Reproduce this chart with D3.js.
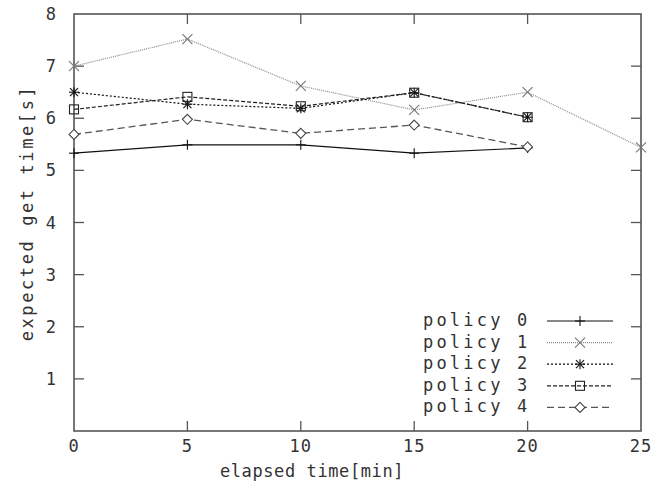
<!DOCTYPE html>
<html><head><meta charset="utf-8">
<script src="https://cdn.jsdelivr.net/npm/d3@7"></script>
<style>
html,body{margin:0;padding:0;background:#fff;}
text{font-family:"DejaVu Sans Mono","Liberation Mono",monospace;fill:#333;}
</style></head>
<body><svg id="c" width="663" height="499"></svg>
<script>
const xTicks = [0, 5, 10, 15, 20, 25];
const yTicks = [1, 2, 3, 4, 5, 6, 7, 8];
const xShort = [0, 5, 10, 15, 20];
const xLong = [0, 5, 10, 15, 20, 25];
const policy0 = [5.33, 5.49, 5.49, 5.33, 5.43];
const policy1 = [7.00, 7.52, 6.62, 6.16, 6.50, 5.44];
const policy2 = [6.50, 6.27, 6.19, 6.49, 6.02];
const policy3 = [6.17, 6.41, 6.23, 6.49, 6.02];
const policy4 = [5.69, 5.98, 5.71, 5.87, 5.45];
const seriesNames = ["policy 0", "policy 1", "policy 2", "policy 3", "policy 4"];

const svg = d3.select("#c");
const L = 74, R = 641, T = 14, B = 431;
const x = d3.scaleLinear().domain([0, 25]).range([L, R]);
const y = d3.scaleLinear().domain([0, 8]).range([B, T]);

const styles = [
  {stroke:"#111", dash:null, width:1.2, marker:"plus", mcol:"#111"},
  {stroke:"#8a8a8a", dash:"1,1", width:1.2, marker:"cross", mcol:"#777"},
  {stroke:"#111", dash:"2,2", width:1.2, marker:"star", mcol:"#111"},
  {stroke:"#222", dash:"4,2", width:1.2, marker:"square", mcol:"#222"},
  {stroke:"#555", dash:"7,4", width:1.3, marker:"diamond", mcol:"#444"}
];
const series = [
  {xs:xShort, ys:policy0}, {xs:xLong, ys:policy1}, {xs:xShort, ys:policy2},
  {xs:xShort, ys:policy3}, {xs:xShort, ys:policy4}
];

const tk = 10, axCol = "#555";
const g = svg.append("g");
xTicks.forEach(v => {
  if (v === 0 || v === 25) return;
  g.append("line").attr("x1", x(v)).attr("x2", x(v)).attr("y1", B).attr("y2", B - tk).attr("stroke", axCol).attr("stroke-width", 1.3);
  g.append("line").attr("x1", x(v)).attr("x2", x(v)).attr("y1", T).attr("y2", T + tk).attr("stroke", axCol).attr("stroke-width", 1.3);
});
yTicks.forEach(v => {
  if (v === 8) return;
  g.append("line").attr("x1", L).attr("x2", L + tk).attr("y1", y(v)).attr("y2", y(v)).attr("stroke", axCol).attr("stroke-width", 1.3);
  g.append("line").attr("x1", R).attr("x2", R - tk).attr("y1", y(v)).attr("y2", y(v)).attr("stroke", axCol).attr("stroke-width", 1.3);
});
g.append("rect").attr("x", L).attr("y", T).attr("width", R - L).attr("height", B - T)
  .attr("fill", "none").attr("stroke", axCol).attr("stroke-width", 1.6);

xTicks.forEach(v => {
  svg.append("text").attr("x", x(v)).attr("y", 452).attr("text-anchor", "middle")
    .attr("font-size", 17).style("letter-spacing", "1px").text(v);
});
yTicks.forEach(v => {
  svg.append("text").attr("x", 56).attr("y", y(v) + 6).attr("text-anchor", "end")
    .attr("font-size", 17).text(v);
});
svg.append("text").attr("x", 312).attr("y", 477).attr("text-anchor", "middle")
  .attr("font-size", 17).style("letter-spacing", "0.6px").text("elapsed time[min]");
svg.append("text").attr("transform", "translate(33,213) rotate(-90)").attr("text-anchor", "middle")
  .attr("font-size", 17).style("letter-spacing", "2.6px").text("expected get time[s]");

function drawMarker(sel, type, cx, cy, col) {
  const s = 5;
  const a = {stroke: col, "stroke-width": 1.1, fill: "none"};
  const ln = (x1, y1, x2, y2) => { const l = sel.append("line").attr("x1", x1).attr("y1", y1).attr("x2", x2).attr("y2", y2); Object.entries(a).forEach(([k, v]) => l.attr(k, v)); };
  if (type === "plus") { ln(cx - s, cy, cx + s, cy); ln(cx, cy - s, cx, cy + s); }
  else if (type === "cross") { ln(cx - s, cy - s, cx + s, cy + s); ln(cx - s, cy + s, cx + s, cy - s); }
  else if (type === "star") { ln(cx - s, cy, cx + s, cy); ln(cx, cy - s, cx, cy + s); ln(cx - 4, cy - 4, cx + 4, cy + 4); ln(cx - 4, cy + 4, cx + 4, cy - 4); }
  else if (type === "square") { const r = sel.append("rect").attr("x", cx - 4.5).attr("y", cy - 4.5).attr("width", 9).attr("height", 9); Object.entries(a).forEach(([k, v]) => r.attr(k, v)); }
  else if (type === "diamond") { const p = sel.append("path").attr("d", `M${cx},${cy - 5}L${cx + 5},${cy}L${cx},${cy + 5}L${cx - 5},${cy}Z`); Object.entries(a).forEach(([k, v]) => p.attr(k, v)); p.attr("fill", "#fff"); }
}

const line = d3.line().x(d => x(d[0])).y(d => y(d[1]));
series.forEach((s, i) => {
  const st = styles[i];
  const pts = s.xs.map((xv, j) => [xv, s.ys[j]]);
  svg.append("path").attr("d", line(pts)).attr("fill", "none").attr("stroke", st.stroke)
    .attr("stroke-width", st.width).attr("stroke-dasharray", st.dash);
});
series.forEach((s, i) => {
  const st = styles[i];
  const mg = svg.append("g");
  s.xs.forEach((xv, j) => drawMarker(mg, st.marker, x(xv), y(s.ys[j]), st.mcol));
});

seriesNames.forEach((n, i) => {
  const st = styles[i];
  const by = 326 + i * 21.6;
  svg.append("text").attr("x", 423).attr("y", by).attr("font-size", 17)
    .style("letter-spacing", "3.2px").text(n);
  const ly = by - 5;
  svg.append("line").attr("x1", 547).attr("x2", 613).attr("y1", ly).attr("y2", ly)
    .attr("stroke", st.stroke).attr("stroke-width", st.width).attr("stroke-dasharray", st.dash);
  drawMarker(svg.append("g"), st.marker, 580, ly, st.mcol);
});
</script></body></html>
